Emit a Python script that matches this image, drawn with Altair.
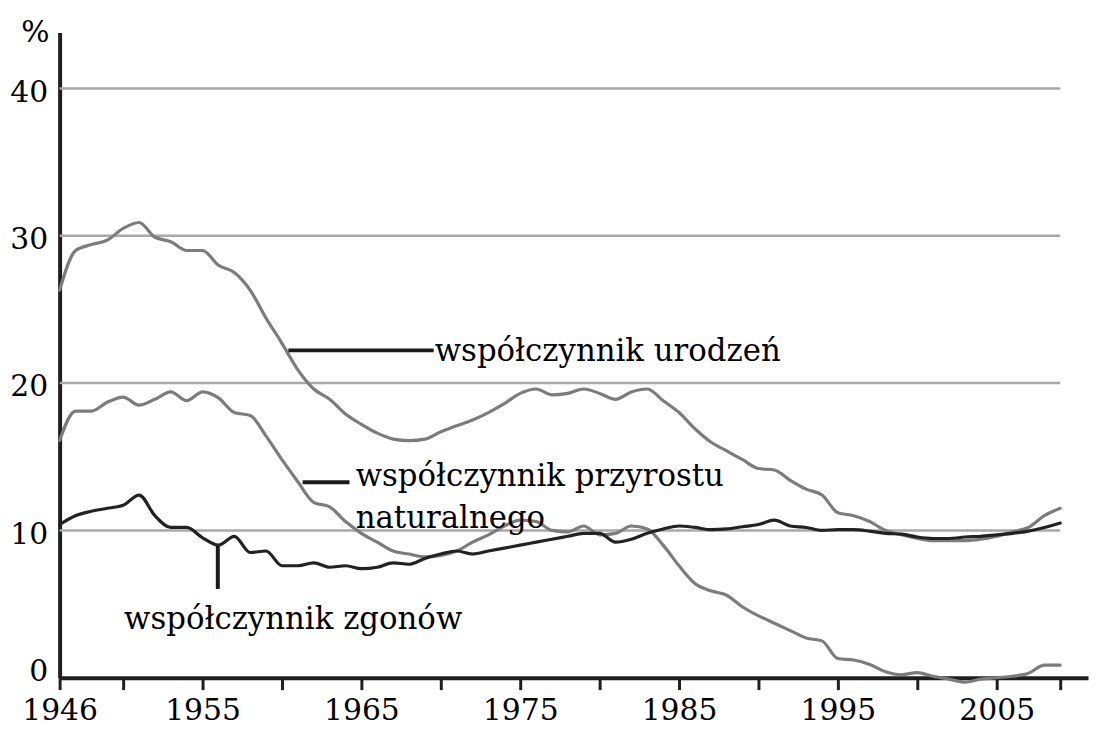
import altair as alt
import pandas as pd

# ---------------- data ----------------
years = list(range(1946, 2010))

birth_rate = [
    26.3, 29.0, 29.4, 29.7, 30.5, 30.9, 29.9, 29.6, 29.0, 29.0,   # 1946-1955
    28.0, 27.5, 26.3, 24.4, 22.7, 20.9, 19.6, 18.9, 17.9, 17.2,   # 1956-1965
    16.6, 16.2, 16.1, 16.2, 16.7, 17.1, 17.5, 18.0, 18.6, 19.3,   # 1966-1975
    19.6, 19.2, 19.3, 19.6, 19.3, 18.9, 19.4, 19.6, 18.8, 18.0,   # 1976-1985
    16.9, 16.0, 15.4, 14.8, 14.2, 14.1, 13.4, 12.8, 12.4, 11.2,   # 1986-1995
    11.0, 10.6, 10.0, 9.7, 9.45, 9.3, 9.3, 9.3, 9.4, 9.6,         # 1996-2005
    9.9, 10.2, 11.0, 11.5,                                        # 2006-2009
]

death_rate = [
    10.4, 11.0, 11.3, 11.5, 11.7, 12.4, 11.0, 10.2, 10.2, 9.5,
    9.0, 9.6, 8.5, 8.6, 7.6, 7.6, 7.8, 7.5, 7.6, 7.4,
    7.5, 7.8, 7.7, 8.1, 8.4, 8.6, 8.4, 8.6, 8.8, 9.0,
    9.2, 9.4, 9.6, 9.8, 9.8, 9.2, 9.4, 9.8, 10.1, 10.3,
    10.2, 10.05, 10.1, 10.25, 10.4, 10.7, 10.3, 10.2, 10.0, 10.05,
    10.05, 9.95, 9.8, 9.75, 9.55, 9.45, 9.45, 9.55, 9.6, 9.7,
    9.8, 9.95, 10.2, 10.5,
]

natural_increase = [
    16.1, 18.1, 18.1, 18.7, 19.05, 18.5, 18.9, 19.4, 18.8, 19.4,
    19.0, 18.0, 17.8, 16.4, 14.8, 13.3, 11.9, 11.6, 10.6, 9.8,
    9.2, 8.6, 8.4, 8.2, 8.3, 8.6, 9.2, 9.7, 10.3, 10.7,
    10.6, 10.0, 9.9, 10.3, 9.7, 9.8, 10.3, 10.1, 9.0, 7.6,
    6.4, 5.9, 5.6, 4.8, 4.2, 3.7, 3.2, 2.7, 2.5, 1.3,
    1.2, 0.9, 0.4, 0.2, 0.35, 0.1, -0.1, -0.3, -0.1, 0.0,
    0.1, 0.3, 0.85, 0.85,
]

series_names = ["urodzenia", "przyrost", "zgony"]
series_colors = ["#7c7c7c", "#7c7c7c", "#222222"]

y_tick_values = [0, 10, 20, 30, 40]
grid_values = [10, 20, 30, 40]
x_tick_years = [1946, 1950, 1955, 1960, 1965, 1970, 1975, 1980, 1985,
                1990, 1995, 2000, 2005, 2009]
x_label_years = [1946, 1955, 1965, 1975, 1985, 1995, 2005]

annotation_labels = ["współczynnik urodzeń", "współczynnik przyrostu",
                     "naturalnego", "współczynnik zgonów"]

# ---------------- tables ----------------
df = pd.concat([
    pd.DataFrame({"year": years, "value": vals, "series": name})
    for name, vals in zip(series_names, [birth_rate, natural_increase, death_rate])
])

grid_df = pd.DataFrame({"value": grid_values,
                        "year": [years[0]] * len(grid_values),
                        "year2": [years[-1]] * len(grid_values)})

text_df = pd.DataFrame({
    "label": annotation_labels,
    "year": [1969.62, 1964.64, 1964.64, 1950.06],
    "value": [21.52, 12.99, 10.16, 3.33],
})

leader_df = pd.DataFrame({
    "year": [1960.4, 1961.3, 1955.96],
    "year2": [1969.55, 1964.25, 1955.96],
    "value": [22.22, 13.27, 8.94],
    "value2": [22.22, 13.27, 6.02],
})

# ---------------- scales / axes ----------------
W, H = 1036, 650
FONT = "DejaVu Serif"
TICK_FS = 30
TEXT_FS = 31

x_scale = alt.Scale(domain=[1946, 1946 + W / 16], nice=False, zero=False)
y_scale = alt.Scale(domain=[0, 43.8], nice=False, zero=False)

label_list = ",".join(str(v) for v in x_label_years)
x_axis = alt.Axis(
    values=x_tick_years,
    labelExpr=f"indexof([{label_list}], datum.value) >= 0 ? toString(datum.value) : ''",
    title=None, grid=False,
    tickSize=12, tickWidth=3, tickColor="#1e1e1e",
    domainWidth=4, domainColor="#1e1e1e",
    labelFont=FONT, labelFontSize=TICK_FS, labelColor="black",
    labelPadding=6, labelFlush=False, labelOverlap=False,
)
y_axis = alt.Axis(
    values=y_tick_values, grid=False, ticks=False,
    domainWidth=4, domainColor="#1e1e1e",
    labelFont=FONT, labelFontSize=TICK_FS, labelColor="black",
    labelPadding=12,
    labelOffset={"condition": {"test": "datum.value == 0", "value": -6}, "value": 4},
    title="%", titleAngle=0, titleX=-25, titleY=9,
    titleAlign="center", titleBaseline="alphabetic",
    titleFont=FONT, titleFontSize=30, titleFontWeight="normal", titleColor="black",
)

X = alt.X("year:Q", scale=x_scale, axis=x_axis)
Y = alt.Y("value:Q", scale=y_scale, axis=y_axis)

grid = alt.Chart(grid_df).mark_rule(color="#a8a8a8", strokeWidth=2.5).encode(
    x=X, x2="year2:Q", y=Y
)

lines = alt.Chart(df).mark_line(
    strokeWidth=3.2, interpolate="monotone", strokeJoin="round", strokeCap="round"
).encode(
    x=X, y=Y,
    color=alt.Color("series:N",
                    scale=alt.Scale(domain=series_names, range=series_colors),
                    legend=None),
)

leaders = alt.Chart(leader_df).mark_rule(color="#1a1a1a", strokeWidth=4).encode(
    x=X, x2="year2:Q", y=Y, y2="value2:Q"
)

texts = alt.Chart(text_df).mark_text(
    align="left", baseline="alphabetic", font=FONT, fontSize=TEXT_FS, color="black"
).encode(x=X, y=Y, text="label:N")

chart = alt.layer(grid, lines, leaders, texts).properties(
    width=W, height=H,
    autosize=alt.AutoSizeParams(type="none"),
    padding={"left": 52, "top": 22, "right": 3, "bottom": 48},
    background="white",
).configure_view(stroke=None)

chart.save("out.html", embed_options={"renderer": "svg", "actions": False})
